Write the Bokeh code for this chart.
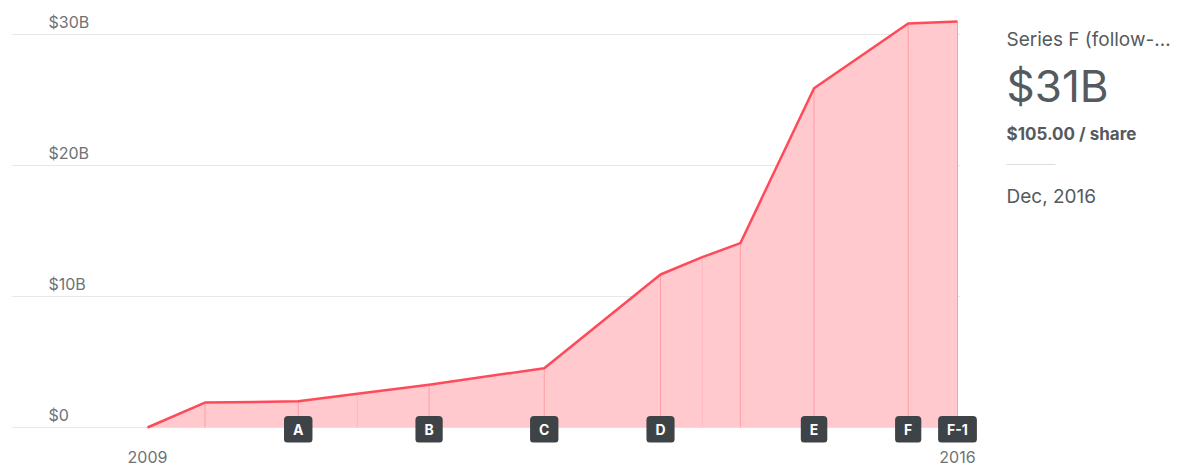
import numpy as np
import pandas as pd
from bokeh.plotting import figure
from bokeh.models import Range1d, FixedTicker, DatetimeTickFormatter, Label, ColumnDataSource
from bokeh.layouts import row
from bokeh.embed import file_html
from bokeh.resources import INLINE
from bokeh.core.properties import value

# ---------------- data ----------------
dates = ["2009-01-01", "2009-07-25", "2010-06-23", "2011-01-20", "2011-10-03",
         "2012-11-17", "2014-01-06", "2014-06-04", "2014-10-18", "2015-07-08",
         "2016-06-08", "2016-12-01"]
valuation_b = [0, 1.9, 2.0, 2.57, 3.26, 4.53, 11.68, 13.0, 14.07, 25.9, 30.84, 31.0]
round_labels = ["", "", "A", "", "B", "C", "D", "", "", "E", "F", "F-1"]
minor_round = [False, False, False, True, False, False, False, True, False, False, False, False]
y_ticks = [0, 10, 20, 30]
y_tick_labels = ["$0", "$10B", "$20B", "$30B"]
panel_title = "Series F (follow-\u2026"
panel_value = "$31B"
panel_share = "$105.00 / share"
panel_date = "Dec, 2016"

FONT = "Inter"
LINE = "#ff4a5a"
FILL = "#ffc9ce"
SEG_DARK = "#ff9ea6"
SEG_LIGHT = "#ffb8be"
BADGE = "#3e4347"
AXIS_TXT = "#6e7275"
PANEL_TXT = "#555a5e"
GRID = "#e8e8e8"

ms = pd.to_datetime(dates).values.astype("datetime64[ms]").astype("int64").astype(float)
t0, t1 = ms[0], ms[-1]

# layout constants (pixels)
left_border, top_border = 11, 8
frame_w, frame_h = 981, 434
first_px, last_px = 136, 946          # positions of first/last date inside frame
grid_end_px = 949                     # gridlines stop just past the last date
zero_px = 15                          # $0 line above frame bottom
px_per_b = 13.1

scale = (last_px - first_px) / (t1 - t0)
x_start = t0 - first_px / scale
x_end = x_start + frame_w / scale
y_start = -zero_px / px_per_b
y_end = y_start + frame_h / px_per_b

p = figure(x_axis_type="datetime", y_axis_location=None,
           frame_width=frame_w, frame_height=frame_h,
           x_range=Range1d(x_start, x_end), y_range=Range1d(y_start, y_end),
           toolbar_location=None, output_backend="svg",
           min_border_left=left_border, min_border_right=6,
           min_border_top=top_border, min_border_bottom=0)
p.outline_line_color = None
p.xgrid.grid_line_color = None
p.ygrid.grid_line_color = None

xa = p.xaxis[0]
xa.ticker = FixedTicker(ticks=[t0, t1])
xa.formatter = DatetimeTickFormatter(years="%Y", months="%Y", days="%Y", hours="%Y",
                                     hourmin="%Y", minutes="%Y", minsec="%Y",
                                     seconds="%Y", milliseconds="%Y", microseconds="%Y")
xa.axis_line_color = None
xa.major_tick_line_color = None
xa.minor_tick_line_color = None
xa.major_tick_out = 0
xa.major_tick_in = 0
xa.major_label_standoff = 8
xa.major_label_text_font = FONT
xa.major_label_text_font_size = "16px"
xa.major_label_text_color = AXIS_TXT

# horizontal gridlines at the value ticks
grid_src = ColumnDataSource(dict(
    x0=[x_start] * len(y_ticks), x1=[x_start + grid_end_px / scale] * len(y_ticks), y=y_ticks))
p.segment(x0="x0", y0="y", x1="x1", y1="y", source=grid_src,
          line_color=GRID, line_width=1, level="underlay")

src = ColumnDataSource(dict(x=ms, y=valuation_b))
p.varea(x="x", y1=0, y2="y", source=src, fill_color=FILL, fill_alpha=1.0)

seg = ColumnDataSource(dict(
    x=ms[1:], y0=[0] * (len(ms) - 1), y1=valuation_b[1:],
    c=[SEG_LIGHT if m else SEG_DARK for m in minor_round[1:]]))
p.segment(x0="x", y0="y0", x1="x", y1="y1", source=seg, line_color="c", line_width=1)

p.line(x="x", y="y", source=src, line_color=LINE, line_width=2.5, line_join="round")

# y tick labels, drawn inside the plot above each gridline
label_x = t0 - (147 - 48) / scale
for v, txt in zip(y_ticks, y_tick_labels):
    p.add_layout(Label(x=label_x, y=v, text=txt, text_font=FONT, text_font_size="16px",
                       text_color=AXIS_TXT, text_align="left", text_baseline="middle",
                       y_offset=13))

# round badges
for xv, lab in zip(ms, round_labels):
    if lab:
        p.add_layout(Label(x=xv, y=0, text=lab, text_align="center", text_baseline="middle",
                           text_color="white", text_font=FONT, text_font_size="14px",
                           text_font_style="bold", background_fill_color=BADGE,
                           border_radius=4,
                           padding=dict(left=9, right=9, top=5, bottom=5),
                           y_offset=-2))

# ---------------- right panel ----------------
PH = 470
p2 = figure(width=195, height=PH, x_range=Range1d(0, 195), y_range=Range1d(PH, 0),
            toolbar_location=None, output_backend="svg",
            x_axis_location=None, y_axis_location=None,
            min_border=0)
p2.outline_line_color = None
p2.xgrid.grid_line_color = None
p2.ygrid.grid_line_color = None

def ptext(y, txt, size, style="normal"):
    p2.text(x=[8], y=[y], text=[txt], text_font=value(FONT), text_font_size=size,
            text_font_style=style, text_color=PANEL_TXT,
            text_align="left", text_baseline="middle")

ptext(33, panel_title, "19px")
ptext(83, panel_value, "44px")
ptext(134, panel_share, "17px", "bold")
p2.segment(x0=[8], y0=[167], x1=[57], y1=[167], line_color="#dddddd", line_width=1)
ptext(201, panel_date, "19px")

layout = row(p, p2)
open("out.html", "w").write(file_html(layout, INLINE))
